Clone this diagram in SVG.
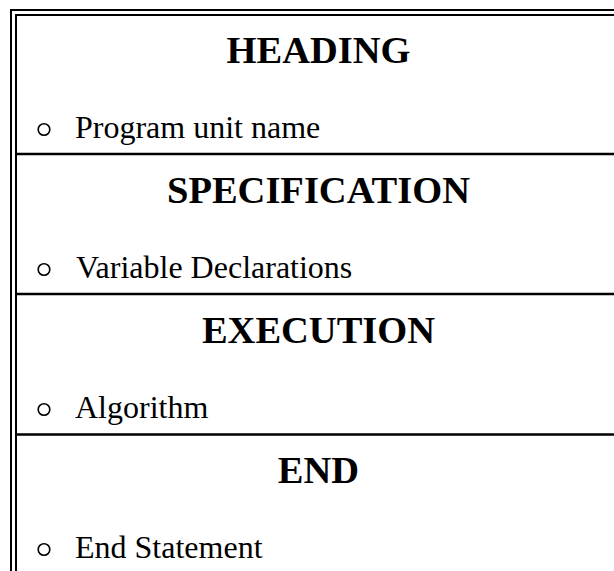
<svg xmlns="http://www.w3.org/2000/svg" width="614" height="571" viewBox="0 0 614 571">
  <style>
    .frame { fill: none; stroke: #000; stroke-width: 2; }
    .rule { stroke: #000; stroke-width: 2.5; }
    .title { font-family: "Liberation Serif", "Times New Roman", serif; font-weight: bold; font-size: 38.5px; fill: #000; text-anchor: middle; }
    .item { font-family: "Liberation Serif", "Times New Roman", serif; font-size: 32px; fill: #000; }
    .dot { fill: none; stroke: #000; stroke-width: 1.6; }
  </style>
  <rect width="614" height="571" fill="#fff"/>

  <!-- double outer frame (open to the right and bottom) -->
  <g id="frame">
    <path class="frame" d="M11 571 V10 H614"/>
    <path class="frame" d="M16 571 V15 H614"/>
  </g>

  <!-- section dividers -->
  <g id="dividers">
    <line class="rule" x1="16" y1="154" x2="614" y2="154"/>
    <line class="rule" x1="16" y1="294" x2="614" y2="294"/>
    <line class="rule" x1="16" y1="434.5" x2="614" y2="434.5"/>
  </g>

  <g id="heading">
    <text class="title" x="318.5" y="63">HEADING</text>
    <circle class="dot" cx="44" cy="129.5" r="5.8"/>
    <text class="item" x="75" y="138">Program unit name</text>
  </g>

  <g id="specification">
    <text class="title" x="318.5" y="203">SPECIFICATION</text>
    <circle class="dot" cx="44" cy="269.5" r="5.8"/>
    <text class="item" x="76" y="278">Variable Declarations</text>
  </g>

  <g id="execution">
    <text class="title" x="318.5" y="343">EXECUTION</text>
    <circle class="dot" cx="44" cy="409.5" r="5.8"/>
    <text class="item" x="75" y="418">Algorithm</text>
  </g>

  <g id="end">
    <text class="title" x="318.5" y="483">END</text>
    <circle class="dot" cx="44" cy="549.5" r="5.8"/>
    <text class="item" x="75" y="558">End Statement</text>
  </g>
</svg>
